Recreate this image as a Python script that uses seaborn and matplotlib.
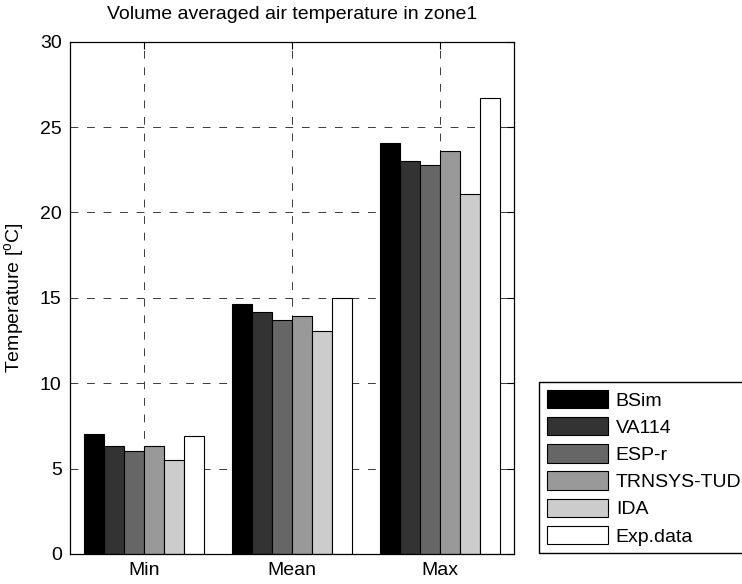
import seaborn as sns
import matplotlib.pyplot as plt
import pandas as pd

# Values
stats = ["Min", "Mean", "Max"]
models = ["BSim", "VA114", "ESP-r", "TRNSYS-TUD", "IDA", "Exp.data"]
bsim = [7.0, 14.65, 24.05]
va114 = [6.32, 14.2, 23.0]
espr = [6.05, 13.7, 22.8]
trnsys = [6.32, 13.95, 23.6]
ida = [5.53, 13.08, 21.06]
exp_data = [6.93, 15.0, 26.7]

bar_colors = ["#000000", "#333333", "#666666", "#999999", "#cccccc", "#ffffff"]

# Long format table for seaborn
series = [bsim, va114, espr, trnsys, ida, exp_data]
rows = []
for model, vals in zip(models, series):
    for stat, v in zip(stats, vals):
        rows.append({"stat": stat, "model": model, "temp": v})
df = pd.DataFrame(rows)

sns.set_theme(style="white")
plt.rcParams["font.family"] = ["Liberation Sans", "DejaVu Sans"]
plt.rcParams["mathtext.fontset"] = "custom"
plt.rcParams["mathtext.rm"] = "Liberation Sans"
for key in ["text.color", "axes.labelcolor", "xtick.color", "ytick.color"]:
    plt.rcParams[key] = "black"

fs = 14

fig = plt.figure(figsize=(7.42, 5.84), dpi=100)
ax = fig.add_axes([0.0943, 0.0514, 0.5984, 0.8772])

sns.barplot(
    data=df,
    x="stat",
    y="temp",
    hue="model",
    order=stats,
    hue_order=models,
    palette=bar_colors,
    saturation=1,
    width=0.81,
    edgecolor="black",
    linewidth=0.8,
    ax=ax
)

# Pull the legend out of the axes
handles, labels = ax.get_legend_handles_labels()
if ax.get_legend() is not None:
    ax.get_legend().remove()

ax.set_xlim(-0.5, 2.5)
ax.set_ylim(0, 30)
ax.set_yticks(range(0, 31, 5))
ax.set_xticks(range(len(stats)))
ax.set_xticklabels(stats)
ax.set_xlabel("")
ax.set_ylabel("Temperature [$^{\\mathrm{o}}$C]", fontsize=fs, labelpad=9)
ax.set_title("Volume averaged air temperature in zone1", fontsize=fs, pad=16)

ax.tick_params(axis="both", labelsize=fs, direction="in", length=5, width=0.8,
               top=True, right=True, color="black", pad=6)

# Dashed grid behind the bars
ax.set_axisbelow(True)
ax.grid(True, linestyle=(0, (8, 9)), linewidth=0.7, color="#3a3a3a")

for spine in ax.spines.values():
    spine.set_visible(True)
    spine.set_color("black")
    spine.set_linewidth(0.9)

fig.legend(
    handles, labels,
    loc="upper left",
    bbox_to_anchor=(0.7264, 0.3459),
    fontsize=fs,
    frameon=True,
    fancybox=False,
    edgecolor="black",
    framealpha=1,
    borderpad=0.4,
    handlelength=3.15,
    handleheight=1.08,
    handletextpad=0.4,
    labelspacing=0.38,
    borderaxespad=0
)
fig.legends[0].get_frame().set_linewidth(1.0)

plt.savefig("out.png", dpi=100)
